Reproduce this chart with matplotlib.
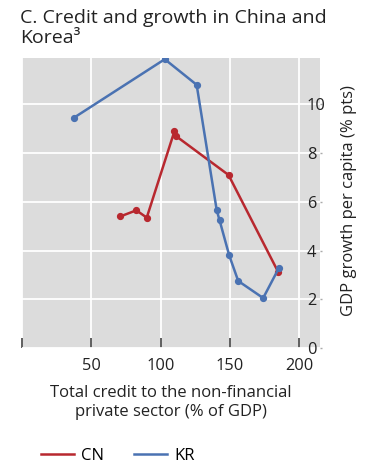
import matplotlib
matplotlib.use("Agg")
import matplotlib.pyplot as plt
from matplotlib.lines import Line2D

plt.rcParams['font.family'] = ['Open Sans', 'DejaVu Sans']

# Data
cn_credit = [71, 82.5, 90, 110, 111, 149, 185]
cn_growth = [5.4, 5.65, 5.35, 8.9, 8.7, 7.1, 3.1]
kr_credit = [37.5, 103, 126, 140.5, 142.5, 149.5, 156, 174, 185.5]
kr_growth = [9.45, 11.85, 10.8, 5.65, 5.25, 3.8, 2.75, 2.05, 3.3]

x_ticks = [0, 50, 100, 150, 200]
x_ticklabels = ['', '50', '100', '150', '200']
y_ticks = [0, 2, 4, 6, 8, 10]
y_ticklabels = ['0', '2', '4', '6', '8', '10']

title = "C. Credit and growth in China and\nKorea\u00b3"
xlabel = "Total credit to the non-financial\nprivate sector (% of GDP)"
ylabel = "GDP growth per capita (% pts)"
series_names = ['CN', 'KR']

red = '#B8282F'
blue = '#4A72B2'

fig = plt.figure(figsize=(3.71, 4.74), dpi=100)
ax = fig.add_axes([22/371, 1-348/474, 298/371, 290/474])
ax.set_facecolor('#DCDCDC')
for s in ax.spines.values():
    s.set_visible(False)

ax.plot(cn_credit, cn_growth, color=red, lw=1.8, marker='o', ms=4.2, zorder=3)
ax.plot(kr_credit, kr_growth, color=blue, lw=1.8, marker='o', ms=4.2, zorder=3)

ax.set_xlim(0, 215)
ax.set_ylim(0, 11.9)
ax.set_xticks(x_ticks)
ax.set_xticklabels(x_ticklabels)
ax.set_yticks(y_ticks)
ax.set_yticklabels(y_ticklabels)
ax.yaxis.tick_right()
ax.tick_params(axis='x', direction='in', length=7, width=1.2, color='#444444',
               pad=7, labelsize=11.8, labelcolor='#222222')
ax.tick_params(axis='y', direction='out', length=1.5, width=1, color='#aaaaaa',
               pad=-11, labelsize=11.8, labelcolor='#222222')
ax.grid(True, color='white', lw=1.3)
ax.set_axisbelow(True)

ax.set_xlabel(xlabel, fontsize=12, color='#222222', labelpad=8, linespacing=1.25)
ax.set_ylabel(ylabel, fontsize=12, color='#222222', rotation=90)
ax.yaxis.set_label_position('right')
ax.yaxis.set_label_coords(1.07, 0.51)

fig.text(20/371, 1-9/474, title, fontsize=14, color='#222222', va='top', ha='left',
         linespacing=1.15)

handles = [Line2D([], [], color=red, lw=1.8), Line2D([], [], color=blue, lw=1.8)]
fig.legend(handles, series_names, loc='center left', bbox_to_anchor=(26/371, 1-456/474),
           ncol=2, frameon=False, fontsize=12, handlelength=2.0, columnspacing=1.8,
           handletextpad=0.4)

fig.savefig('out.png', dpi=100)
